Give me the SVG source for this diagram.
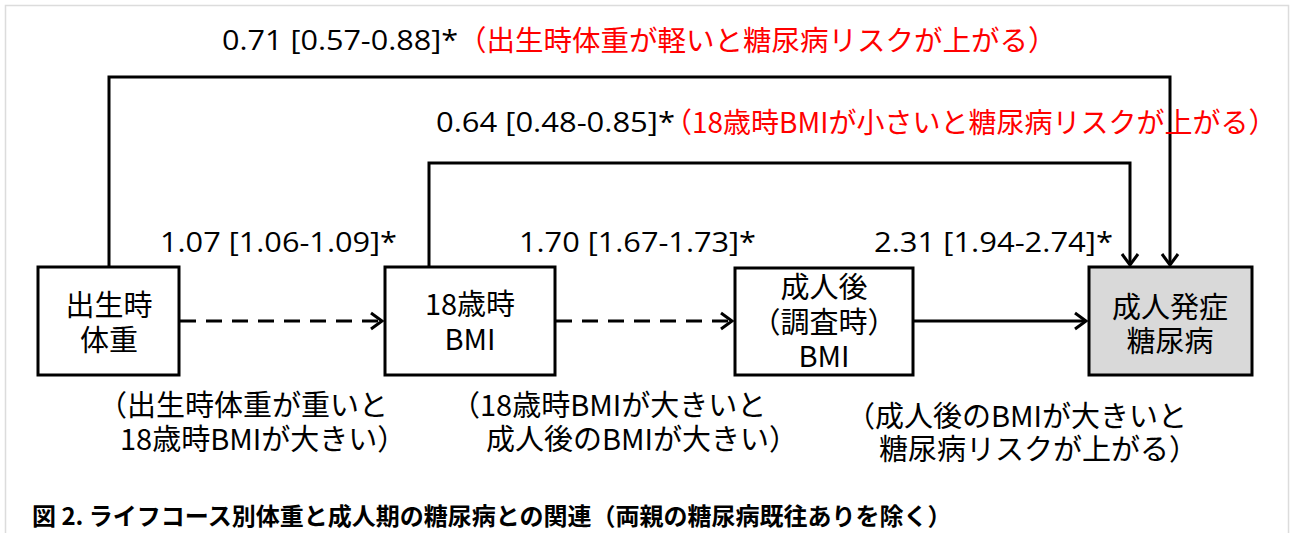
<svg xmlns="http://www.w3.org/2000/svg" width="1290" height="533" viewBox="0 0 1290 533">
<defs>
<style>
.num{font-family:"Open Sans","Liberation Sans",sans-serif;font-size:28px;fill:#000}
.jp{font-family:"Noto Sans CJK JP",sans-serif;font-size:28px;fill:#000}
.sub{font-size:29px}
.red{fill:#ff0000}
.box{fill:#fff;stroke:#000;stroke-width:3}
.bt{font-family:"Noto Sans CJK JP",sans-serif;font-size:29px;fill:#000;text-anchor:middle}
.ln{fill:none;stroke:#000;stroke-width:3}
.dash{stroke-dasharray:16 10}
.cap{font-family:"Noto Sans CJK JP",sans-serif;font-size:24px;font-weight:bold;fill:#000}
</style>
<marker id="ah" markerUnits="userSpaceOnUse" markerWidth="20" markerHeight="20" refX="0" refY="0" viewBox="-14 -10 16 20" orient="auto" overflow="visible">
<path d="M-11,-8 L0,0 L-11,8" fill="none" stroke="#000" stroke-width="3"/>
</marker>
</defs>
<rect x="0" y="0" width="1290" height="533" fill="#fff"/>
<rect x="5.5" y="5.5" width="1283" height="540" fill="#fff" stroke="#dcdcdc" stroke-width="1.5"/>

<g id="connectors">
<path class="ln" d="M109,267 V77 H1170 V265" marker-end="url(#ah)"/>
<path class="ln" d="M429,267 V163 H1130 V265" marker-end="url(#ah)"/>
<path class="ln dash" d="M180,321 H382" marker-end="url(#ah)"/>
<path class="ln dash" d="M556,321 H732" marker-end="url(#ah)"/>
<path class="ln" d="M913,321 H1086" marker-end="url(#ah)"/>
</g>

<g id="labels">
<text class="num" x="222" y="50" textLength="236" lengthAdjust="spacingAndGlyphs">0.71 [0.57-0.88]*</text>
<text class="jp red" x="458" y="51" style="font-size:28.5px">（出生時体重が軽いと糖尿病リスクが上がる）</text>
<text class="num" x="436" y="132" textLength="239" lengthAdjust="spacingAndGlyphs">0.64 [0.48-0.85]*</text>
<text class="jp red" x="664" y="133">（18歳時BMIが小さいと糖尿病リスクが上がる）</text>
<text class="num" x="160" y="252" textLength="237" lengthAdjust="spacingAndGlyphs">1.07 [1.06-1.09]*</text>
<text class="num" x="519" y="252" textLength="237" lengthAdjust="spacingAndGlyphs">1.70 [1.67-1.73]*</text>
<text class="num" x="874" y="252" textLength="239" lengthAdjust="spacingAndGlyphs">2.31 [1.94-2.74]*</text>
<text class="jp sub" x="98" y="416">（出生時体重が重いと</text>
<text class="jp sub" x="120" y="450">18歳時BMIが大きい）</text>
<text class="jp sub" x="451" y="416">（18歳時BMIが大きいと</text>
<text class="jp sub" x="486" y="450">成人後のBMIが大きい）</text>
<text class="jp sub" x="846" y="427">（成人後のBMIが大きいと</text>
<text class="jp sub" x="879" y="460">糖尿病リスクが上がる）</text>
</g>

<g id="node-birthweight">
<rect class="box" x="38" y="267" width="141" height="108"/>
<text class="bt" x="109" y="316">出生時</text>
<text class="bt" x="109" y="351">体重</text>
</g>
<g id="node-bmi18">
<rect class="box" x="385" y="267" width="170" height="108"/>
<text class="bt" x="470" y="315">18歳時</text>
<text class="bt" x="470" y="350">BMI</text>
</g>
<g id="node-bmiadult">
<rect class="box" x="735" y="268" width="178" height="107"/>
<text class="bt" x="824" y="298">成人後</text>
<text class="bt" x="824" y="333">（調査時）</text>
<text class="bt" x="824" y="367">BMI</text>
</g>
<g id="node-diabetes">
<rect class="box" x="1089" y="267" width="163" height="108" style="fill:#d9d9d9"/>
<text class="bt" x="1170" y="318">成人発症</text>
<text class="bt" x="1170" y="352">糖尿病</text>
</g>

<text class="cap" x="32" y="525">図 2.  ライフコース別体重と成人期の糖尿病との関連（両親の糖尿病既往ありを除く）</text>
</svg>
